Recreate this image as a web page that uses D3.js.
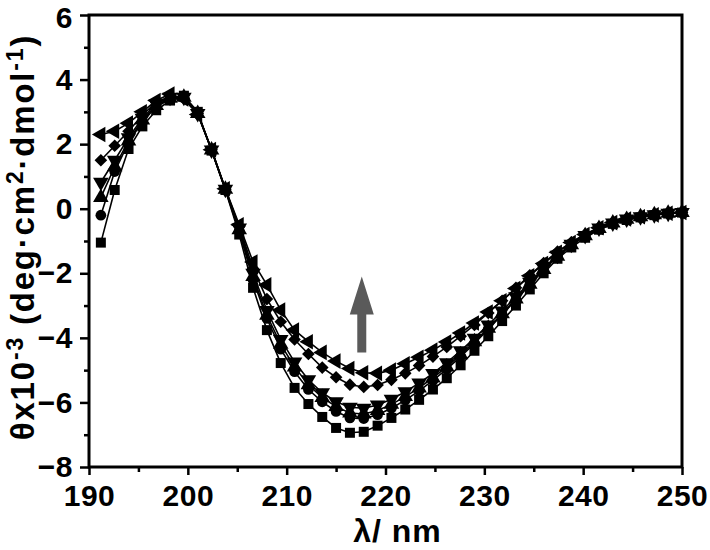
<!DOCTYPE html>
<html>
<head>
<meta charset="utf-8">
<script src="https://cdn.jsdelivr.net/npm/d3@7"></script>
<style>
  body { margin: 0; background: #fff; }
  svg { display: block; }
</style>
</head>
<body>
<div id="container"></div>
<script>
let w = 710;
let h = 550;

// wavelengths (nm), one point every 1.4 nm
let wavelength = [191.2, 192.6, 194.0, 195.4, 196.8, 198.2, 199.6, 201.0, 202.4, 203.8,
  205.2, 206.6, 208.0, 209.4, 210.8, 212.2, 213.6, 215.0, 216.4, 217.8,
  219.2, 220.6, 222.0, 223.4, 224.8, 226.2, 227.6, 229.0, 230.4, 231.8,
  233.2, 234.6, 236.0, 237.4, 238.8, 240.2, 241.6, 243.0, 244.4, 245.8,
  247.2, 248.6, 250.0];

// theta x 10^-3 for each curve
let squareVals = [-1.05, 0.58, 1.85, 2.55, 3.05, 3.35, 3.5, 3.0, 1.8, 0.58,
  -0.8, -2.45, -3.76, -4.78, -5.55, -6.05, -6.45, -6.79, -6.94, -6.91,
  -6.72, -6.48, -6.22, -5.92, -5.6, -5.25, -4.85, -4.4, -3.95, -3.48,
  -3.0, -2.5, -2.0, -1.55, -1.2, -0.9, -0.65, -0.47, -0.35, -0.27,
  -0.2, -0.15, -0.12];
let circleVals = [-0.2, 1.15, 2.05, 2.7, 3.15, 3.4, 3.45, 2.95, 1.82, 0.58,
  -0.7, -2.2, -3.4, -4.35, -5.05, -5.6, -5.98, -6.28, -6.48, -6.5,
  -6.38, -6.18, -5.93, -5.64, -5.32, -4.97, -4.58, -4.17, -3.73, -3.28,
  -2.82, -2.36, -1.9, -1.48, -1.13, -0.85, -0.62, -0.45, -0.33, -0.26,
  -0.19, -0.14, -0.12];
let triUpVals = [0.35, 1.3, 2.1, 2.75, 3.2, 3.42, 3.45, 2.95, 1.82, 0.6,
  -0.65, -2.1, -3.3, -4.2, -4.9, -5.45, -5.85, -6.13, -6.33, -6.36,
  -6.25, -6.06, -5.82, -5.55, -5.24, -4.9, -4.52, -4.12, -3.7, -3.25,
  -2.8, -2.34, -1.88, -1.47, -1.12, -0.84, -0.61, -0.44, -0.33, -0.25,
  -0.19, -0.14, -0.12];
let triDownVals = [0.82, 1.5, 2.2, 2.8, 3.25, 3.45, 3.45, 2.95, 1.82, 0.6,
  -0.6, -2.0, -3.15, -4.05, -4.75, -5.3, -5.7, -5.98, -6.15, -6.18,
  -6.08, -5.9, -5.67, -5.4, -5.1, -4.77, -4.4, -4.01, -3.6, -3.17,
  -2.73, -2.28, -1.84, -1.44, -1.1, -0.83, -0.6, -0.44, -0.32, -0.25,
  -0.19, -0.14, -0.12];
let diamondVals = [1.5, 1.95, 2.4, 2.9, 3.3, 3.48, 3.42, 2.95, 1.83, 0.6,
  -0.55, -1.85, -2.8, -3.5, -4.05, -4.5, -4.92, -5.22, -5.45, -5.52,
  -5.46, -5.3, -5.1, -4.86, -4.58, -4.28, -3.95, -3.6, -3.23, -2.85,
  -2.45, -2.06, -1.68, -1.33, -1.04, -0.79, -0.58, -0.43, -0.32, -0.25,
  -0.19, -0.14, -0.12];
let triLeftVals = [2.3, 2.4, 2.65, 3.0, 3.35, 3.55, 3.4, 2.92, 1.83, 0.62,
  -0.5, -1.65, -2.36, -3.14, -3.76, -4.12, -4.45, -4.72, -4.95, -5.08,
  -5.1, -5.0, -4.8, -4.6, -4.38, -4.13, -3.85, -3.54, -3.2, -2.85,
  -2.47, -2.08, -1.7, -1.35, -1.05, -0.8, -0.59, -0.43, -0.32, -0.25,
  -0.19, -0.14, -0.12];

let xMajor = [190, 200, 210, 220, 230, 240, 250];
let xMinor = [195, 205, 215, 225, 235, 245];
let yMajor = [-8, -6, -4, -2, 0, 2, 4, 6];
let yMinor = [-7, -5, -3, -1, 1, 3, 5];

// arrow annotation: wavelength, tail and tip value
let arrowAt = [217.6, -4.45, -2.1];

let font = "'Liberation Sans', Arial, sans-serif";

let viz = d3.select("#container")
  .append("svg")
    .attr("width", w)
    .attr("height", h)
    .style("background-color", "white")
;

let plotLeft = 89, plotRight = 682, plotTop = 15, plotBottom = 467;

let xScale = d3.scaleLinear().domain([190, 250]).range([plotLeft, plotRight]);
let yScale = d3.scaleLinear().domain([-8, 6]).range([plotBottom, plotTop]);

// bottom axis, major + minor ticks
viz.append("g")
  .attr("transform", "translate(0," + plotBottom + ")")
  .call(d3.axisBottom(xScale).tickValues(xMajor).tickSize(8).tickPadding(10).tickFormat(d3.format("d")));
viz.append("g")
  .attr("transform", "translate(0," + plotBottom + ")")
  .call(d3.axisBottom(xScale).tickValues(xMinor).tickSize(5).tickFormat(""));

let yAxisGroup = viz.append("g")
  .attr("transform", "translate(" + plotLeft + ",0)")
  .call(d3.axisLeft(yScale).tickValues(yMajor).tickSize(9).tickPadding(7).tickFormat(d3.format("d")));
viz.append("g")
  .attr("transform", "translate(" + plotLeft + ",0)")
  .call(d3.axisLeft(yScale).tickValues(yMinor).tickSize(5).tickFormat(""));

viz.selectAll(".domain").remove();
viz.selectAll(".tick line").attr("stroke", "black").attr("stroke-width", 2.5);
viz.selectAll(".tick text")
  .attr("fill", "black")
  .style("font-family", font)
  .style("font-weight", "bold")
  .style("font-size", "30px")
  .style("letter-spacing", "0.5px");

// the top label sits against the page edge; nudge it down a little
yAxisGroup.selectAll(".tick text")
  .filter(function(d){ return d === 6; })
  .attr("y", 3);

// frame
viz.append("rect")
  .attr("x", plotLeft)
  .attr("y", plotTop)
  .attr("width", plotRight - plotLeft)
  .attr("height", plotBottom - plotTop)
  .attr("fill", "none")
  .attr("stroke", "black")
  .attr("stroke-width", 3);

// curves
let series = [
  { values: squareVals, symbol: d3.symbolSquare, size: 100, rotate: 0 },
  { values: circleVals, symbol: d3.symbolCircle, size: 90, rotate: 0 },
  { values: triUpVals, symbol: d3.symbolTriangle, size: 105, rotate: 0 },
  { values: triDownVals, symbol: d3.symbolTriangle, size: 105, rotate: 180 },
  { values: diamondVals, symbol: d3.symbolSquare, size: 80, rotate: 45 },
  { values: triLeftVals, symbol: d3.symbolTriangle, size: 105, rotate: -90 }
];

let line = d3.line()
  .x(function(d){ return xScale(d.x); })
  .y(function(d){ return yScale(d.y); });

let vizgroup = viz.append("g").attr("class", "vizgroup");

series.forEach(function(s){
  let pts = wavelength.map(function(x, i){ return { x: x, y: s.values[i] }; });
  vizgroup.append("path")
    .datum(pts)
    .attr("d", line)
    .attr("fill", "none")
    .attr("stroke", "black")
    .attr("stroke-width", 1.6);
  vizgroup.selectAll(null)
    .data(pts)
    .enter()
    .append("path")
      .attr("d", d3.symbol().type(s.symbol).size(s.size))
      .attr("transform", function(d){
        return "translate(" + xScale(d.x) + "," + yScale(d.y) + ") rotate(" + s.rotate + ")";
      })
      .attr("fill", "black");
});

// grey arrow
let ax = xScale(arrowAt[0]);
let aTail = yScale(arrowAt[1]);
let aTip = yScale(arrowAt[2]);
let headLen = 38, headHalf = 12, shaftHalf = 4.5;
viz.append("path")
  .attr("d", "M" + (ax - shaftHalf) + "," + aTail +
    "L" + (ax - shaftHalf) + "," + (aTip + headLen) +
    "L" + (ax - headHalf) + "," + (aTip + headLen) +
    "L" + ax + "," + aTip +
    "L" + (ax + headHalf) + "," + (aTip + headLen) +
    "L" + (ax + shaftHalf) + "," + (aTip + headLen) +
    "L" + (ax + shaftHalf) + "," + aTail + "Z")
  .attr("fill", "#5a5a5a");

// axis titles
viz.append("text")
  .attr("x", (plotLeft + plotRight) / 2 + 12)
  .attr("y", 542)
  .attr("text-anchor", "middle")
  .style("font-family", font)
  .style("font-weight", "bold")
  .style("font-size", "32px")
  .style("letter-spacing", "1px")
  .text("λ/ nm");

let yTitle = viz.append("text")
  .attr("transform", "translate(34," + ((plotTop + plotBottom) / 2 - 4) + ") rotate(-90)")
  .attr("text-anchor", "middle")
  .style("font-family", font)
  .style("font-weight", "bold")
  .style("font-size", "33px")
  .style("letter-spacing", "1.8px");
yTitle.append("tspan").text("θx10");
yTitle.append("tspan").attr("dy", -11).style("font-size", "23px").text("-3");
yTitle.append("tspan").attr("dy", 11).text(" (deg·cm");
yTitle.append("tspan").attr("dy", -11).style("font-size", "23px").text("2");
yTitle.append("tspan").attr("dy", 11).text("·dmol");
yTitle.append("tspan").attr("dy", -11).style("font-size", "23px").text("-1");
yTitle.append("tspan").attr("dy", 11).text(")");
</script>
</body>
</html>
